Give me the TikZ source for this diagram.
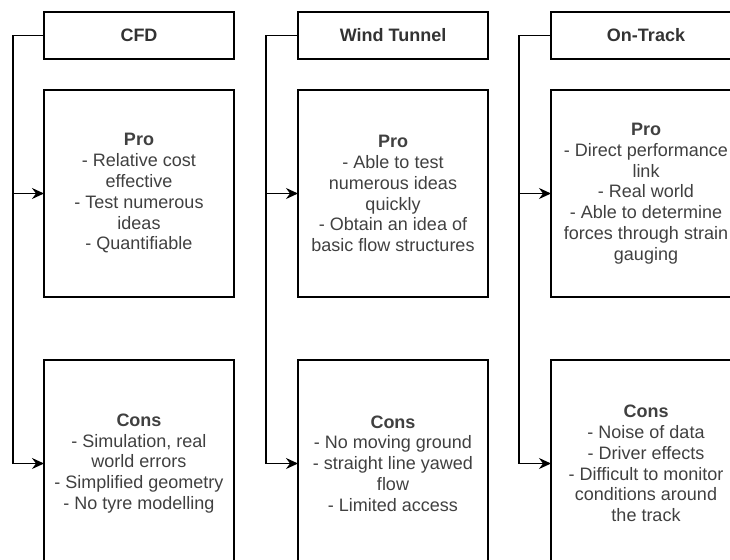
\documentclass[tikz,border=0pt]{standalone}
\usepackage{fontspec}
\setmainfont{Liberation Sans}
\usepackage{tikz}
\usetikzlibrary{positioning,arrows.meta}

\tikzset{
    heading/.style={draw, line width=1.6pt, outer sep=0pt, inner sep=0pt,
        minimum width=190pt, minimum height=47pt, font=\fontsize{18}{21}\selectfont\bfseries,
        text=black!80},
    listbox/.style={draw, line width=1.6pt, outer sep=0pt, inner sep=0pt,
        minimum width=190pt, minimum height=207pt, align=center,
        font=\fontsize{18}{20.8}\selectfont, text=black!75},
    feed/.style={line width=1.6pt, -{Stealth[length=12pt,width=11pt,inset=4pt]}},
}

\begin{document}
\begin{tikzpicture}[x=1pt, y=-1pt]
        \useasboundingbox (0,0) rectangle (730,559);

        \node[heading] (cfd) at (139,35.5) {CFD};
        \node[listbox, below=31pt of cfd] (cfdpro) {\textbf{Pro}\\- Relative cost\\effective\\- Test numerous\\ideas\\- Quantifiable};
        \node[listbox, below=63pt of cfdpro] (cfdcons) {\textbf{Cons}\\- Simulation, real\\world errors\\- Simplified geometry\\- No tyre modelling};

        \node[heading, right=64pt of cfd] (tunnel) {Wind Tunnel};
        \node[listbox, below=31pt of tunnel] (tunnelpro) {\textbf{Pro}\\- Able to test\\numerous ideas\\quickly\\- Obtain an idea of\\basic flow structures};
        \node[listbox, below=63pt of tunnelpro] (tunnelcons) {\textbf{Cons}\\- No moving ground\\- straight line yawed\\flow\\- Limited access};

        \node[heading, right=63pt of tunnel] (track) {On-Track};
        \node[listbox, below=31pt of track] (trackpro) {\textbf{Pro}\\- Direct performance\\link\\- Real world\\- Able to determine\\forces through strain\\gauging};
        \node[listbox, below=63pt of trackpro] (trackcons) {\textbf{Cons}\\- Noise of data\\- Driver effects\\- Difficult to monitor\\conditions around\\the track};

        \coordinate (cfdspine) at ([xshift=-31pt]cfd.west);
        \coordinate (tunnelspine) at ([xshift=-32pt]tunnel.west);
        \coordinate (trackspine) at ([xshift=-32pt]track.west);

        \draw[feed] (cfd.west) -- (cfdspine) |- (cfdpro.west);
        \draw[feed] (cfdspine) |- (cfdcons.west);
        \draw[feed] (tunnel.west) -- (tunnelspine) |- (tunnelpro.west);
        \draw[feed] (tunnelspine) |- (tunnelcons.west);
        \draw[feed] (track.west) -- (trackspine) |- (trackpro.west);
        \draw[feed] (trackspine) |- (trackcons.west);
        \end{tikzpicture}
\end{document}
